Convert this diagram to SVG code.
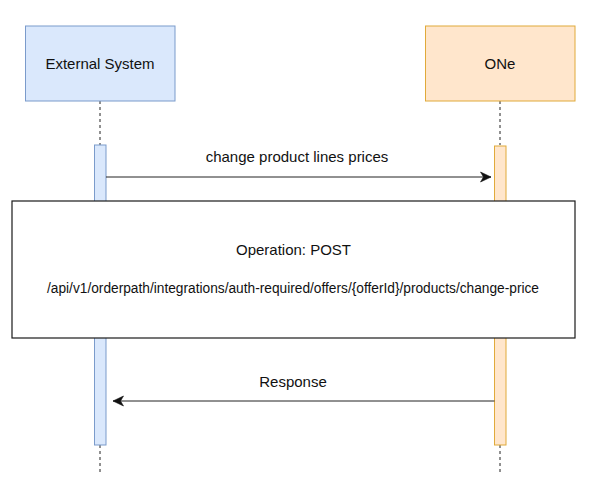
<svg xmlns="http://www.w3.org/2000/svg" width="592" height="485" viewBox="0 0 592 485">
<defs>
<style>
.txt{font-family:"Liberation Sans",Arial,sans-serif;font-size:15px;fill:#111;text-anchor:middle}
.small{font-size:14px}
.life{stroke:#222;stroke-width:1;stroke-dasharray:3 3;fill:none}
.msg{stroke:#222;stroke-width:1;fill:none}
.blue{fill:#dae8fc;stroke:#7b9bcb;stroke-width:1}
.orange{fill:#ffe6cc;stroke:#e0aa3a;stroke-width:1}
</style>
<marker id="arr" markerUnits="userSpaceOnUse" markerWidth="14" markerHeight="12" viewBox="-11 -6 12 12" refX="0" refY="0" orient="auto">
<path d="M0,0 L-10.5,-5 L-7.5,0 L-10.5,5 Z" fill="#111" stroke="#111" stroke-width="0.6" stroke-linejoin="miter"/>
</marker>
</defs>
<rect width="592" height="485" fill="#ffffff"/>
<g id="lifelines">
<line class="life" x1="100" y1="101" x2="100" y2="145"/>
<line class="life" x1="100" y1="445" x2="100" y2="475"/>
<line class="life" x1="500" y1="101" x2="500" y2="145"/>
<line class="life" x1="500" y1="445" x2="500" y2="474"/>
</g>
<g id="external-system">
<rect class="blue" x="25.5" y="26" width="149.5" height="75"/>
<text class="txt" x="100" y="68.5">External System</text>
</g>
<g id="one">
<rect class="orange" x="425.5" y="26" width="149.5" height="75"/>
<text class="txt" x="500" y="68.5">ONe</text>
</g>
<g id="activation-external">
<rect class="blue" x="94.5" y="145" width="11.5" height="300"/>
</g>
<g id="activation-one">
<rect class="orange" x="494.5" y="146" width="11.5" height="299"/>
</g>
<g id="connectors">
<line class="msg" x1="106" y1="177" x2="491" y2="177" marker-end="url(#arr)"/>
<text class="txt" x="297" y="162">change product lines prices</text>
<line class="msg" x1="494.5" y1="401" x2="113" y2="401" marker-end="url(#arr)"/>
<text class="txt" x="293" y="387">Response</text>
</g>
<g id="operation">
<rect x="12" y="201" width="563" height="137" fill="#ffffff" stroke="#1a1a1a" stroke-width="1.2"/>
<text class="txt" x="293.5" y="255">Operation: POST</text>
<text class="txt small" x="293" y="293" textLength="492" lengthAdjust="spacingAndGlyphs">/api/v1/orderpath/integrations/auth-required/offers/{offerId}/products/change-price</text>
</g>
</svg>
